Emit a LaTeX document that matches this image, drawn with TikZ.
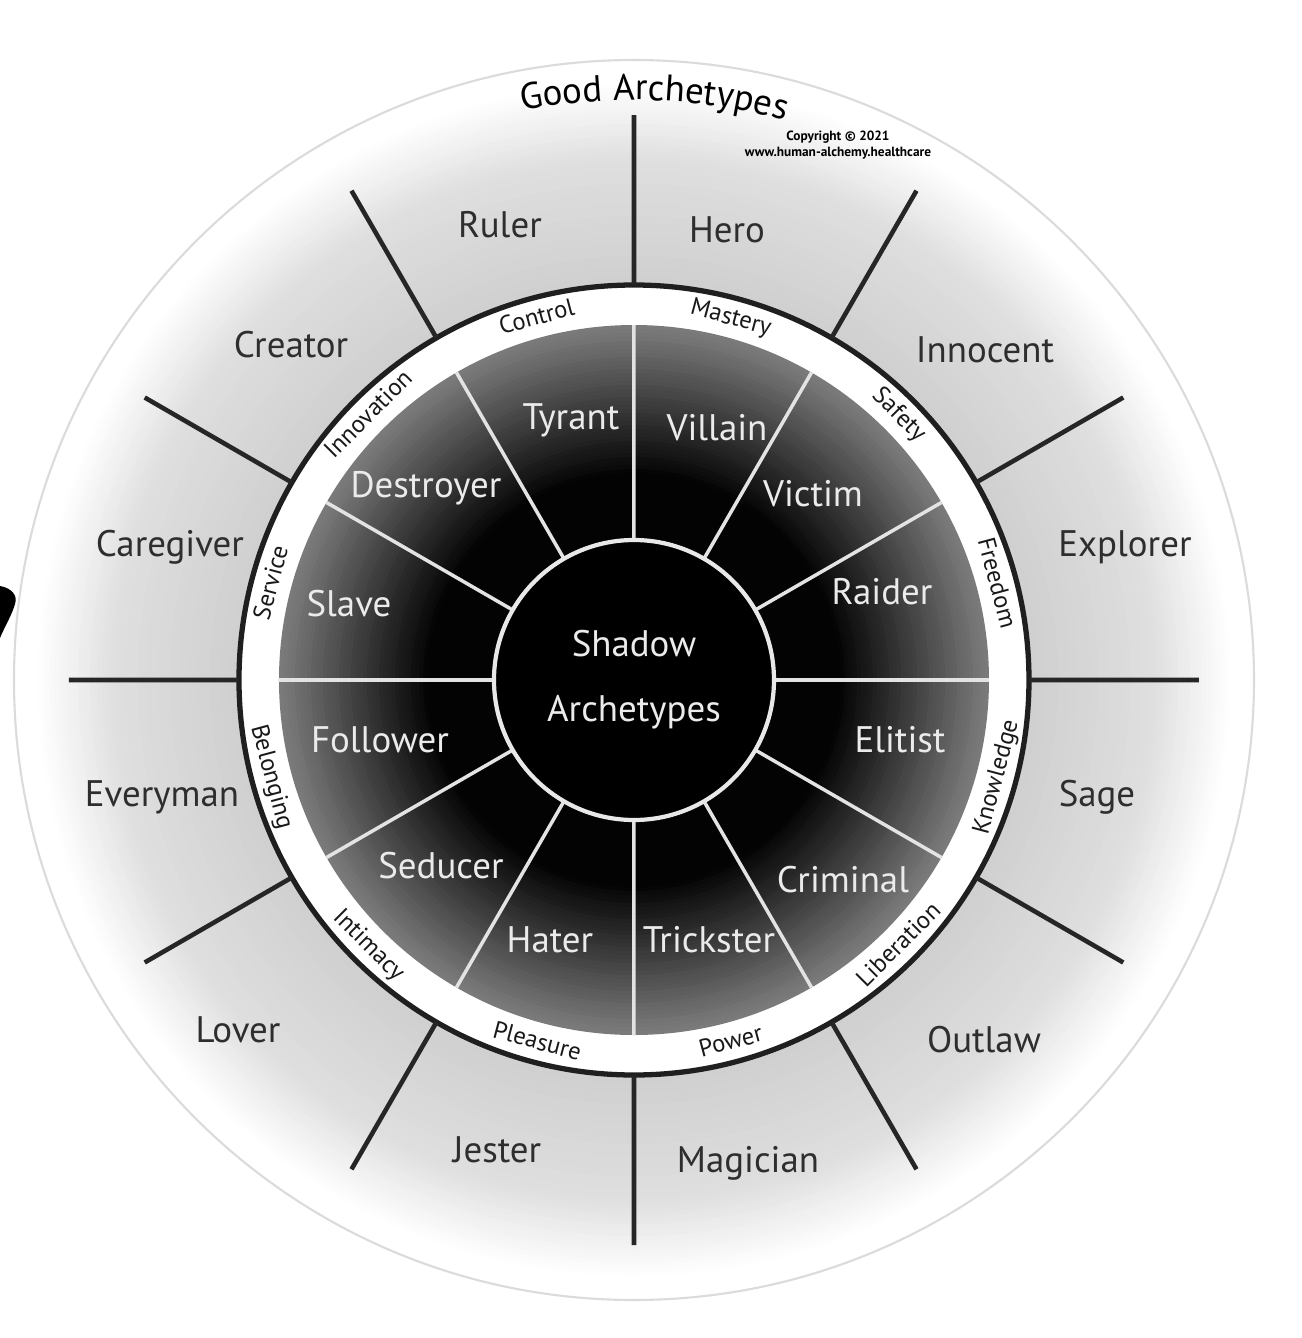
\documentclass[tikz,border=0pt]{standalone}
\usepackage{fontspec}
\setmainfont{PT Sans}
\usetikzlibrary{decorations.text}

\newcommand\ringfont{\fontsize{7}{8}\selectfont}
\newcommand\goodfont{\fontsize{10.5}{12}\selectfont}

\begin{document}
\begin{tikzpicture}[
    spoke/.style={line width=1.3pt, black!85},
    divider/.style={line width=1pt, gray!22},
    goodlabel/.style={font=\goodfont, text=black!82},
    shadowlabel/.style={font=\goodfont, text=white!92!black},
    ringlabel/.style={font=\ringfont, anchor=base, text=black!90}
]
\useasboundingbox (-6.34,-6.58) rectangle (6.68,6.80);
\fill[white] (-6.34,-6.58) rectangle (6.68,6.80);

% Good ring, light gray fading to white
\foreach \rad in {6.20,6.16,...,3.94} {
  \pgfmathtruncatemacro\shadeval{\rad<5.2 ? 38-(\rad-3.95)*9.6 : max(0,26-(\rad-5.2)*32.5)}
  \fill[gray!\shadeval] (0,0) circle (\rad);
}
\draw[gray!28, line width=0.6pt] (0,0) circle (6.2);
\fill[white] (0,0) circle (3.95);
\draw[line width=1.5pt, black!88] (0,0) circle (3.95);

% Shadow disc, gray rim fading to black
\foreach \rad in {3.55,3.51,...,2.04} {
  \pgfmathtruncatemacro\shadeval{100-(\rad-2.05)*32}
  \fill[black!\shadeval] (0,0) circle (\rad);
}
\draw[divider] (90:1.4) -- (90:3.55) (60:1.4) -- (60:3.55) (30:1.4) -- (30:3.55)
  (0:1.4) -- (0:3.55) (-30:1.4) -- (-30:3.55) (-60:1.4) -- (-60:3.55)
  (-90:1.4) -- (-90:3.55) (-120:1.4) -- (-120:3.55) (-150:1.4) -- (-150:3.55)
  (180:1.4) -- (180:3.55) (150:1.4) -- (150:3.55) (120:1.4) -- (120:3.55);
\node[circle, fill=black, draw=gray!18, line width=1.2pt, minimum size=2.8cm] (core) at (0,0) {};
\node[shadowlabel, align=center, font=\fontsize{10.5}{18.5}\selectfont] (shadowtitle) at (core) {Shadow\\Archetypes};

% Spokes
\draw[spoke] (90:3.95) -- (90:5.65) (60:3.95) -- (60:5.65) (30:3.95) -- (30:5.65)
  (0:3.95) -- (0:5.65) (-30:3.95) -- (-30:5.65) (-60:3.95) -- (-60:5.65)
  (-90:3.95) -- (-90:5.65) (-120:3.95) -- (-120:5.65) (-150:3.95) -- (-150:5.65)
  (180:3.95) -- (180:5.65) (150:3.95) -- (150:5.65) (120:3.95) -- (120:5.65);

% Good archetypes
\path[decorate, decoration={text along path, text align=center, text={|\goodfont|Good Archetypes}}]
  (102:5.8) arc[start angle=102, end angle=74, radius=5.8];
\node[font=\fontsize{3.8}{4.4}\selectfont\bfseries, align=center] (copyright) at (2.04,5.35) {Copyright © 2021\\www.human-alchemy.healthcare};
\node[goodlabel] (ruler) at (-1.34,4.55) {Ruler};
\node[goodlabel] (hero) at (0.93,4.50) {Hero};
\node[goodlabel] (innocent) at (3.51,3.30) {Innocent};
\node[goodlabel] (explorer) at (4.91,1.33) {Explorer};
\node[goodlabel] (sage) at (4.63,-1.17) {Sage};
\node[goodlabel] (outlaw) at (3.50,-3.60) {Outlaw};
\node[goodlabel] (magician) at (1.14,-4.83) {Magician};
\node[goodlabel] (jester) at (-1.37,-4.70) {Jester};
\node[goodlabel] (lover) at (-3.96,-3.50) {Lover};
\node[goodlabel] (everyman) at (-4.72,-1.17) {Everyman};
\node[goodlabel] (caregiver) at (-4.64,1.33) {Caregiver};
\node[goodlabel] (creator) at (-3.43,3.35) {Creator};

% Shadow archetypes
\node[shadowlabel] (tyrant) at (-0.63,2.60) {Tyrant};
\node[shadowlabel] (villain) at (0.83,2.52) {Villain};
\node[shadowlabel] (victim) at (1.79,1.86) {Victim};
\node[shadowlabel] (raider) at (2.48,0.88) {Raider};
\node[shadowlabel] (elitist) at (2.66,-0.60) {Elitist};
\node[shadowlabel] (criminal) at (2.09,-2.00) {Criminal};
\node[shadowlabel] (trickster) at (0.75,-2.60) {Trickster};
\node[shadowlabel] (hater) at (-0.84,-2.60) {Hater};
\node[shadowlabel] (seducer) at (-1.93,-1.86) {Seducer};
\node[shadowlabel] (follower) at (-2.54,-0.60) {Follower};
\node[shadowlabel] (slave) at (-2.85,0.76) {Slave};
\node[shadowlabel] (destroyer) at (-2.08,1.92) {Destroyer};

% Ring words
\node[ringlabel, rotate=15] (control) at (105:3.68) {Control};
\node[ringlabel, rotate=-15] (mastery) at (75:3.68) {Mastery};
\node[ringlabel, rotate=-45] (safety) at (45:3.68) {Safety};
\node[ringlabel, rotate=-75] (freedom) at (15:3.68) {Freedom};
\node[ringlabel, rotate=75] (knowledge) at (-15:3.82) {Knowledge};
\node[ringlabel, rotate=45] (liberation) at (-45:3.82) {Liberation};
\node[ringlabel, rotate=15] (power) at (-75:3.82) {Power};
\node[ringlabel, rotate=-15] (pleasure) at (-105:3.82) {Pleasure};
\node[ringlabel, rotate=-45] (intimacy) at (-135:3.82) {Intimacy};
\node[ringlabel, rotate=-75] (belonging) at (-165:3.82) {Belonging};
\node[ringlabel, rotate=75] (service) at (165:3.68) {Service};
\node[ringlabel, rotate=45] (innovation) at (135:3.68) {Innovation};

% mark at the left edge
\fill[black] (-6.34,0.94) .. controls (-6.22,0.92) and (-6.16,0.84) .. (-6.19,0.76)
  .. controls (-6.22,0.65) and (-6.30,0.52) .. (-6.34,0.42) -- cycle;
\end{tikzpicture}
\end{document}
